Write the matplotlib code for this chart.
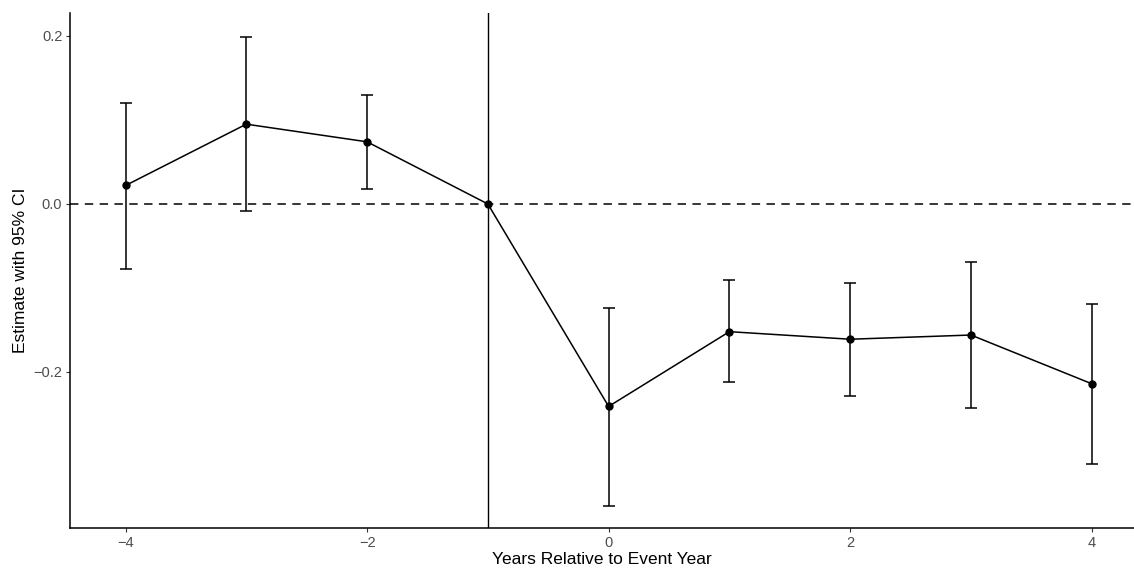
import numpy as np
import matplotlib
matplotlib.use("Agg")
import matplotlib.pyplot as plt

plt.rcParams["font.family"] = ["Liberation Sans", "DejaVu Sans"]

# event-study estimates with 95% confidence bounds
years = [-4, -3, -2, -1, 0, 1, 2, 3, 4]
estimate = [0.022, 0.095, 0.074, 0.0, -0.241, -0.152, -0.161, -0.156, -0.214]
ci_low = [-0.077, -0.008, 0.018, 0.0, -0.360, -0.212, -0.228, -0.243, -0.309]
ci_high = [0.120, 0.199, 0.130, 0.0, -0.124, -0.091, -0.094, -0.069, -0.119]
y_ticks = [-0.2, 0.0, 0.2]
x_ticks = [-4, -2, 0, 2, 4]

est = np.array(estimate)
lo = np.array(ci_low)
hi = np.array(ci_high)
has_ci = hi > lo

fig = plt.figure(figsize=(11.34, 5.70), dpi=100)
ax = fig.add_axes([0.0617, 0.0737, 0.9383, 0.903])

ax.axhline(0, color="black", linewidth=1.1, linestyle=(0, (5.5, 4.2)), zorder=1)
ax.axvline(-1, color="black", linewidth=1.0, zorder=1)

ax.errorbar(np.array(years)[has_ci], est[has_ci],
            yerr=[est[has_ci] - lo[has_ci], hi[has_ci] - est[has_ci]],
            fmt="none", ecolor="black", elinewidth=1.1, capsize=4.3,
            capthick=1.1, zorder=2)
ax.plot(years, estimate, color="black", linewidth=1.1, zorder=3)
ax.plot(years, estimate, "o", color="black", markersize=5, zorder=4)

ax.set_xlim(-4.46, 4.35)
ax.set_ylim(-0.3857, 0.227)
ax.set_xticks(x_ticks)
ax.set_xticklabels(["\u22124", "\u22122", "0", "2", "4"])
ax.set_yticks(y_ticks)
ax.set_yticklabels(["\u22120.2", "0.0", "0.2"])

for side in ["top", "right"]:
    ax.spines[side].set_visible(False)
for side in ["left", "bottom"]:
    ax.spines[side].set_linewidth(1.1)
    ax.spines[side].set_color("black")

ax.tick_params(axis="both", length=3, width=0.8, color="#333333",
               labelcolor="#4D4D4D", labelsize=10.5, pad=2.5)

ax.set_xlabel("Years Relative to Event Year", fontsize=12.5, labelpad=2)
ax.set_ylabel("Estimate with 95% CI", fontsize=12.5, labelpad=4)

fig.savefig("out.png", dpi=100)
